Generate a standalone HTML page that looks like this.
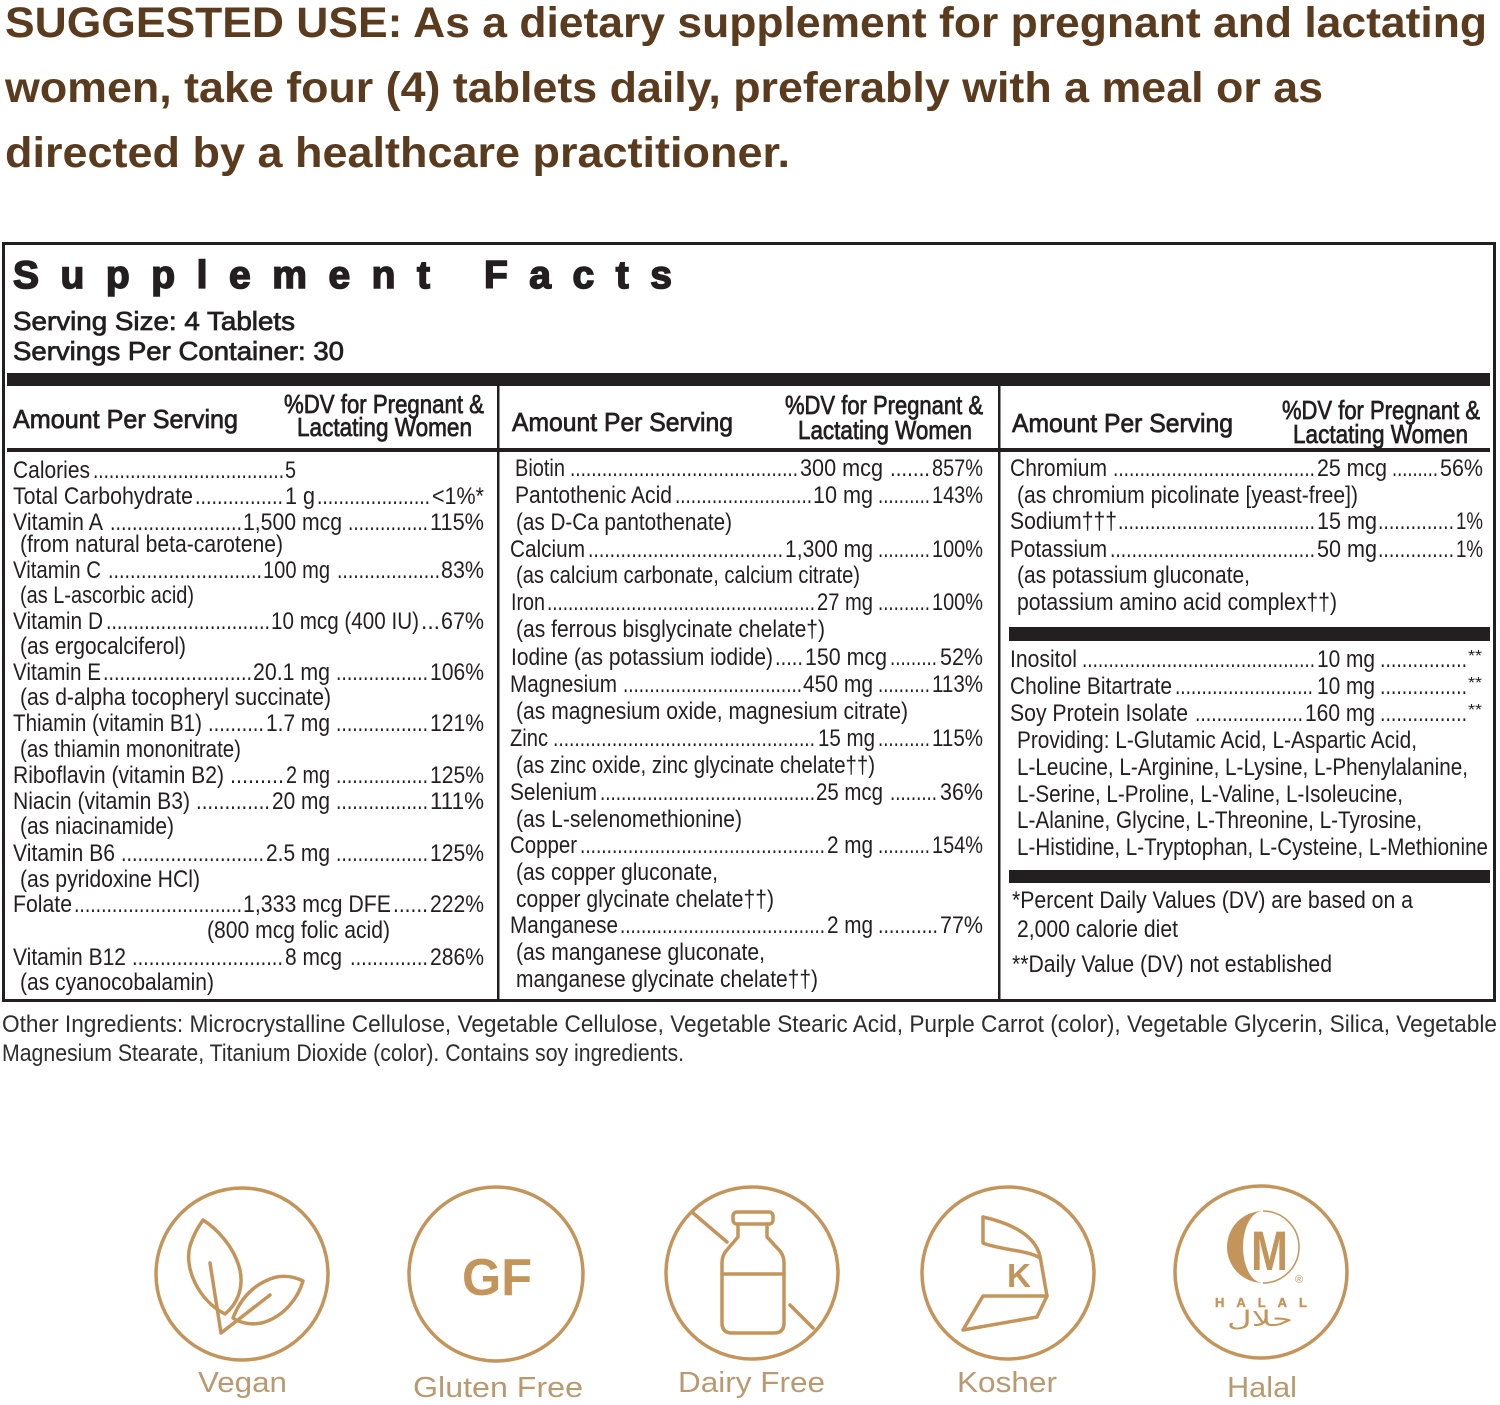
<!DOCTYPE html>
<html><head><meta charset="utf-8">
<style>
html,body{margin:0;padding:0;background:#fff;}
svg{display:block;}
.t{font-family:"Liberation Sans Narrow","Liberation Sans",sans-serif;font-size:24px;fill:#231f20;}
.h{font-family:"Liberation Sans Narrow","Liberation Sans",sans-serif;font-size:26px;fill:#231f20;stroke:#231f20;stroke-width:0.75px;}
.top{font-family:"Liberation Sans",sans-serif;font-weight:bold;font-size:43px;fill:#5b3b1e;}
.lab{font-family:"Liberation Sans",sans-serif;font-size:29px;fill:#b99a70;}
.ic{fill:none;stroke:#c4955b;stroke-width:3.5;stroke-linecap:round;stroke-linejoin:round;}
</style></head>
<body>
<svg width="1500" height="1405" viewBox="0 0 1500 1405" xmlns="http://www.w3.org/2000/svg">
<rect width="1500" height="1405" fill="#fff"/>

<!-- Suggested use -->
<text class="top" x="5" y="37" textLength="1482" lengthAdjust="spacingAndGlyphs">SUGGESTED USE: As a dietary supplement for pregnant and lactating</text>
<text class="top" x="5" y="102" textLength="1318" lengthAdjust="spacingAndGlyphs">women, take four (4) tablets daily, preferably with a meal or as</text>
<text class="top" x="5" y="167" textLength="785" lengthAdjust="spacingAndGlyphs">directed by a healthcare practitioner.</text>

<!-- Table frame -->
<rect x="3.5" y="243.5" width="1491" height="757" fill="none" stroke="#231f20" stroke-width="3"/>
<text x="13" y="288" font-family="Liberation Sans, sans-serif" font-weight="bold" font-size="39" fill="#231f20" stroke="#231f20" stroke-width="1.6" textLength="659" lengthAdjust="spacing">Supplement Facts</text>
<text class="h" x="13" y="330" textLength="282" lengthAdjust="spacingAndGlyphs">Serving Size: 4 Tablets</text>
<text class="h" x="13" y="360" textLength="331" lengthAdjust="spacingAndGlyphs">Servings Per Container: 30</text>
<rect x="7" y="373" width="1483" height="13" fill="#231f20"/>
<rect x="7" y="448" width="1483" height="4" fill="#231f20"/>
<rect x="497" y="386" width="2.5" height="614" fill="#231f20"/>
<rect x="998" y="386" width="2.5" height="614" fill="#231f20"/>
<rect x="1009" y="627" width="481" height="14" fill="#231f20"/>
<rect x="1009" y="870" width="481" height="13" fill="#231f20"/>

<!-- headers -->
<text class="h" x="13" y="428" textLength="225" lengthAdjust="spacingAndGlyphs">Amount Per Serving</text>
<text class="h" x="284" y="413" textLength="200" lengthAdjust="spacingAndGlyphs">%DV for Pregnant &amp;</text>
<text class="h" x="297" y="436" textLength="175" lengthAdjust="spacingAndGlyphs">Lactating Women</text>
<text class="h" x="512" y="431" textLength="221" lengthAdjust="spacingAndGlyphs">Amount Per Serving</text>
<text class="h" x="785" y="414" textLength="198" lengthAdjust="spacingAndGlyphs">%DV for Pregnant &amp;</text>
<text class="h" x="798" y="439" textLength="174" lengthAdjust="spacingAndGlyphs">Lactating Women</text>
<text class="h" x="1012" y="432" textLength="221" lengthAdjust="spacingAndGlyphs">Amount Per Serving</text>
<text class="h" x="1282" y="419" textLength="198" lengthAdjust="spacingAndGlyphs">%DV for Pregnant &amp;</text>
<text class="h" x="1293" y="443" textLength="175" lengthAdjust="spacingAndGlyphs">Lactating Women</text>

<!-- Column 1 -->
<g class="t">
<text x="13" y="478" textLength="77" lengthAdjust="spacingAndGlyphs">Calories</text>
<text x="93" y="478" textLength="191" lengthAdjust="spacingAndGlyphs">....................................</text>
<text x="285" y="478" textLength="11" lengthAdjust="spacingAndGlyphs">5</text>

<text x="13" y="504" textLength="180" lengthAdjust="spacingAndGlyphs">Total Carbohydrate</text>
<text x="195" y="504" textLength="88" lengthAdjust="spacingAndGlyphs">................</text>
<text x="285" y="504" textLength="30" lengthAdjust="spacingAndGlyphs">1 g</text>
<text x="317" y="504" textLength="113" lengthAdjust="spacingAndGlyphs">.....................</text>
<text x="432" y="504" textLength="52" lengthAdjust="spacingAndGlyphs">&lt;1%*</text>

<text x="13" y="530" textLength="90" lengthAdjust="spacingAndGlyphs">Vitamin A</text>
<text x="110" y="530" textLength="132" lengthAdjust="spacingAndGlyphs">........................</text>
<text x="243" y="530" textLength="99" lengthAdjust="spacingAndGlyphs">1,500 mcg</text>
<text x="348" y="530" textLength="80" lengthAdjust="spacingAndGlyphs">...............</text>
<text x="430" y="530" textLength="54" lengthAdjust="spacingAndGlyphs">115%</text>
<text x="20" y="552" textLength="263" lengthAdjust="spacingAndGlyphs">(from natural beta-carotene)</text>

<text x="13" y="578" textLength="88" lengthAdjust="spacingAndGlyphs">Vitamin C</text>
<text x="108" y="578" textLength="154" lengthAdjust="spacingAndGlyphs">............................</text>
<text x="263" y="578" textLength="67" lengthAdjust="spacingAndGlyphs">100 mg</text>
<text x="337" y="578" textLength="103" lengthAdjust="spacingAndGlyphs">...................</text>
<text x="441" y="578" textLength="43" lengthAdjust="spacingAndGlyphs">83%</text>
<text x="20" y="603" textLength="174" lengthAdjust="spacingAndGlyphs">(as L-ascorbic acid)</text>

<text x="13" y="629" textLength="90" lengthAdjust="spacingAndGlyphs">Vitamin D</text>
<text x="106" y="629" textLength="164" lengthAdjust="spacingAndGlyphs">..............................</text>
<text x="271" y="629" textLength="148" lengthAdjust="spacingAndGlyphs">10 mcg (400 IU)</text>
<text x="421" y="629" textLength="19" lengthAdjust="spacingAndGlyphs">...</text>
<text x="441" y="629" textLength="43" lengthAdjust="spacingAndGlyphs">67%</text>
<text x="20" y="654" textLength="166" lengthAdjust="spacingAndGlyphs">(as ergocalciferol)</text>

<text x="13" y="680" textLength="88" lengthAdjust="spacingAndGlyphs">Vitamin E</text>
<text x="103" y="680" textLength="149" lengthAdjust="spacingAndGlyphs">...........................</text>
<text x="253" y="680" textLength="77" lengthAdjust="spacingAndGlyphs">20.1 mg</text>
<text x="336" y="680" textLength="92" lengthAdjust="spacingAndGlyphs">.................</text>
<text x="430" y="680" textLength="54" lengthAdjust="spacingAndGlyphs">106%</text>
<text x="20" y="705" textLength="311" lengthAdjust="spacingAndGlyphs">(as d-alpha tocopheryl succinate)</text>

<text x="13" y="731" textLength="189" lengthAdjust="spacingAndGlyphs">Thiamin (vitamin B1)</text>
<text x="208" y="731" textLength="56" lengthAdjust="spacingAndGlyphs">..........</text>
<text x="266" y="731" textLength="64" lengthAdjust="spacingAndGlyphs">1.7 mg</text>
<text x="336" y="731" textLength="92" lengthAdjust="spacingAndGlyphs">.................</text>
<text x="430" y="731" textLength="54" lengthAdjust="spacingAndGlyphs">121%</text>
<text x="20" y="757" textLength="221" lengthAdjust="spacingAndGlyphs">(as thiamin mononitrate)</text>

<text x="13" y="783" textLength="211" lengthAdjust="spacingAndGlyphs">Riboflavin (vitamin B2)</text>
<text x="230" y="783" textLength="54" lengthAdjust="spacingAndGlyphs">.........</text>
<text x="286" y="783" textLength="44" lengthAdjust="spacingAndGlyphs">2 mg</text>
<text x="336" y="783" textLength="92" lengthAdjust="spacingAndGlyphs">.................</text>
<text x="430" y="783" textLength="54" lengthAdjust="spacingAndGlyphs">125%</text>

<text x="13" y="809" textLength="177" lengthAdjust="spacingAndGlyphs">Niacin (vitamin B3)</text>
<text x="196" y="809" textLength="74" lengthAdjust="spacingAndGlyphs">.............</text>
<text x="272" y="809" textLength="58" lengthAdjust="spacingAndGlyphs">20 mg</text>
<text x="336" y="809" textLength="92" lengthAdjust="spacingAndGlyphs">.................</text>
<text x="430" y="809" textLength="54" lengthAdjust="spacingAndGlyphs">111%</text>
<text x="20" y="834" textLength="154" lengthAdjust="spacingAndGlyphs">(as niacinamide)</text>

<text x="13" y="861" textLength="102" lengthAdjust="spacingAndGlyphs">Vitamin B6</text>
<text x="121" y="861" textLength="143" lengthAdjust="spacingAndGlyphs">..........................</text>
<text x="266" y="861" textLength="64" lengthAdjust="spacingAndGlyphs">2.5 mg</text>
<text x="336" y="861" textLength="92" lengthAdjust="spacingAndGlyphs">.................</text>
<text x="430" y="861" textLength="54" lengthAdjust="spacingAndGlyphs">125%</text>
<text x="20" y="887" textLength="180" lengthAdjust="spacingAndGlyphs">(as pyridoxine HCl)</text>

<text x="13" y="912" textLength="59" lengthAdjust="spacingAndGlyphs">Folate</text>
<text x="74" y="912" textLength="168" lengthAdjust="spacingAndGlyphs">...............................</text>
<text x="243" y="912" textLength="148" lengthAdjust="spacingAndGlyphs">1,333 mcg DFE</text>
<text x="393" y="912" textLength="35" lengthAdjust="spacingAndGlyphs">......</text>
<text x="430" y="912" textLength="54" lengthAdjust="spacingAndGlyphs">222%</text>
<text x="207" y="938" textLength="183" lengthAdjust="spacingAndGlyphs">(800 mcg folic acid)</text>

<text x="13" y="965" textLength="113" lengthAdjust="spacingAndGlyphs">Vitamin B12</text>
<text x="132" y="965" textLength="151" lengthAdjust="spacingAndGlyphs">...........................</text>
<text x="285" y="965" textLength="57" lengthAdjust="spacingAndGlyphs">8 mcg</text>
<text x="350" y="965" textLength="78" lengthAdjust="spacingAndGlyphs">..............</text>
<text x="430" y="965" textLength="54" lengthAdjust="spacingAndGlyphs">286%</text>
<text x="20" y="990" textLength="194" lengthAdjust="spacingAndGlyphs">(as cyanocobalamin)</text>
</g>

<!-- Column 2 -->
<g class="t">
<text x="515" y="476" textLength="50" lengthAdjust="spacingAndGlyphs">Biotin</text>
<text x="570" y="476" textLength="228" lengthAdjust="spacingAndGlyphs">...........................................</text>
<text x="800" y="476" textLength="83" lengthAdjust="spacingAndGlyphs">300 mcg</text>
<text x="890" y="476" textLength="40" lengthAdjust="spacingAndGlyphs">.......</text>
<text x="932" y="476" textLength="51" lengthAdjust="spacingAndGlyphs">857%</text>

<text x="515" y="503" textLength="157" lengthAdjust="spacingAndGlyphs">Pantothenic Acid</text>
<text x="675" y="503" textLength="137" lengthAdjust="spacingAndGlyphs">..........................</text>
<text x="813" y="503" textLength="60" lengthAdjust="spacingAndGlyphs">10 mg</text>
<text x="878" y="503" textLength="52" lengthAdjust="spacingAndGlyphs">..........</text>
<text x="932" y="503" textLength="51" lengthAdjust="spacingAndGlyphs">143%</text>
<text x="516" y="530" textLength="216" lengthAdjust="spacingAndGlyphs">(as D-Ca pantothenate)</text>

<text x="510" y="557" textLength="75" lengthAdjust="spacingAndGlyphs">Calcium</text>
<text x="588" y="557" textLength="195" lengthAdjust="spacingAndGlyphs">....................................</text>
<text x="785" y="557" textLength="88" lengthAdjust="spacingAndGlyphs">1,300 mg</text>
<text x="878" y="557" textLength="52" lengthAdjust="spacingAndGlyphs">..........</text>
<text x="932" y="557" textLength="51" lengthAdjust="spacingAndGlyphs">100%</text>
<text x="516" y="583" textLength="344" lengthAdjust="spacingAndGlyphs">(as calcium carbonate, calcium citrate)</text>

<text x="511" y="610" textLength="34" lengthAdjust="spacingAndGlyphs">Iron</text>
<text x="547" y="610" textLength="268" lengthAdjust="spacingAndGlyphs">...................................................</text>
<text x="817" y="610" textLength="56" lengthAdjust="spacingAndGlyphs">27 mg</text>
<text x="878" y="610" textLength="52" lengthAdjust="spacingAndGlyphs">..........</text>
<text x="932" y="610" textLength="51" lengthAdjust="spacingAndGlyphs">100%</text>
<text x="516" y="637" textLength="309" lengthAdjust="spacingAndGlyphs">(as ferrous bisglycinate chelate†)</text>

<text x="511" y="665" textLength="262" lengthAdjust="spacingAndGlyphs">Iodine (as potassium iodide)</text>
<text x="775" y="665" textLength="28" lengthAdjust="spacingAndGlyphs">.....</text>
<text x="805" y="665" textLength="82" lengthAdjust="spacingAndGlyphs">150 mcg</text>
<text x="890" y="665" textLength="47" lengthAdjust="spacingAndGlyphs">.........</text>
<text x="940" y="665" textLength="43" lengthAdjust="spacingAndGlyphs">52%</text>

<text x="510" y="692" textLength="107" lengthAdjust="spacingAndGlyphs">Magnesium</text>
<text x="623" y="692" textLength="179" lengthAdjust="spacingAndGlyphs">..................................</text>
<text x="803" y="692" textLength="70" lengthAdjust="spacingAndGlyphs">450 mg</text>
<text x="878" y="692" textLength="52" lengthAdjust="spacingAndGlyphs">..........</text>
<text x="932" y="692" textLength="51" lengthAdjust="spacingAndGlyphs">113%</text>
<text x="516" y="719" textLength="392" lengthAdjust="spacingAndGlyphs">(as magnesium oxide, magnesium citrate)</text>

<text x="510" y="746" textLength="38" lengthAdjust="spacingAndGlyphs">Zinc</text>
<text x="553" y="746" textLength="262" lengthAdjust="spacingAndGlyphs">.................................................</text>
<text x="818" y="746" textLength="57" lengthAdjust="spacingAndGlyphs">15 mg</text>
<text x="878" y="746" textLength="52" lengthAdjust="spacingAndGlyphs">..........</text>
<text x="932" y="746" textLength="51" lengthAdjust="spacingAndGlyphs">115%</text>
<text x="516" y="773" textLength="359" lengthAdjust="spacingAndGlyphs">(as zinc oxide, zinc glycinate chelate††)</text>

<text x="510" y="800" textLength="87" lengthAdjust="spacingAndGlyphs">Selenium</text>
<text x="600" y="800" textLength="215" lengthAdjust="spacingAndGlyphs">.........................................</text>
<text x="816" y="800" textLength="67" lengthAdjust="spacingAndGlyphs">25 mcg</text>
<text x="890" y="800" textLength="47" lengthAdjust="spacingAndGlyphs">.........</text>
<text x="940" y="800" textLength="43" lengthAdjust="spacingAndGlyphs">36%</text>
<text x="516" y="827" textLength="226" lengthAdjust="spacingAndGlyphs">(as L-selenomethionine)</text>

<text x="510" y="853" textLength="67" lengthAdjust="spacingAndGlyphs">Copper</text>
<text x="580" y="853" textLength="245" lengthAdjust="spacingAndGlyphs">..............................................</text>
<text x="827" y="853" textLength="46" lengthAdjust="spacingAndGlyphs">2 mg</text>
<text x="878" y="853" textLength="52" lengthAdjust="spacingAndGlyphs">..........</text>
<text x="932" y="853" textLength="51" lengthAdjust="spacingAndGlyphs">154%</text>
<text x="516" y="880" textLength="202" lengthAdjust="spacingAndGlyphs">(as copper gluconate,</text>
<text x="516" y="907" textLength="258" lengthAdjust="spacingAndGlyphs">copper glycinate chelate††)</text>

<text x="510" y="933" textLength="108" lengthAdjust="spacingAndGlyphs">Manganese</text>
<text x="620" y="933" textLength="205" lengthAdjust="spacingAndGlyphs">.......................................</text>
<text x="827" y="933" textLength="46" lengthAdjust="spacingAndGlyphs">2 mg</text>
<text x="878" y="933" textLength="60" lengthAdjust="spacingAndGlyphs">...........</text>
<text x="940" y="933" textLength="43" lengthAdjust="spacingAndGlyphs">77%</text>
<text x="516" y="960" textLength="249" lengthAdjust="spacingAndGlyphs">(as manganese gluconate,</text>
<text x="516" y="987" textLength="302" lengthAdjust="spacingAndGlyphs">manganese glycinate chelate††)</text>
</g>

<!-- Column 3 -->
<g class="t">
<text x="1010" y="476" textLength="97" lengthAdjust="spacingAndGlyphs">Chromium</text>
<text x="1113" y="476" textLength="202" lengthAdjust="spacingAndGlyphs">......................................</text>
<text x="1317" y="476" textLength="70" lengthAdjust="spacingAndGlyphs">25 mcg</text>
<text x="1392" y="476" textLength="46" lengthAdjust="spacingAndGlyphs">.........</text>
<text x="1440" y="476" textLength="43" lengthAdjust="spacingAndGlyphs">56%</text>
<text x="1017" y="503" textLength="341" lengthAdjust="spacingAndGlyphs">(as chromium picolinate [yeast-free])</text>

<text x="1010" y="529" textLength="107" lengthAdjust="spacingAndGlyphs">Sodium†††</text>
<text x="1118" y="529" textLength="197" lengthAdjust="spacingAndGlyphs">.....................................</text>
<text x="1317" y="529" textLength="60" lengthAdjust="spacingAndGlyphs">15 mg</text>
<text x="1378" y="529" textLength="76" lengthAdjust="spacingAndGlyphs">..............</text>
<text x="1456" y="529" textLength="27" lengthAdjust="spacingAndGlyphs">1%</text>

<text x="1010" y="557" textLength="97" lengthAdjust="spacingAndGlyphs">Potassium</text>
<text x="1110" y="557" textLength="205" lengthAdjust="spacingAndGlyphs">......................................</text>
<text x="1317" y="557" textLength="60" lengthAdjust="spacingAndGlyphs">50 mg</text>
<text x="1378" y="557" textLength="76" lengthAdjust="spacingAndGlyphs">..............</text>
<text x="1456" y="557" textLength="27" lengthAdjust="spacingAndGlyphs">1%</text>
<text x="1017" y="583" textLength="233" lengthAdjust="spacingAndGlyphs">(as potassium gluconate,</text>
<text x="1017" y="610" textLength="320" lengthAdjust="spacingAndGlyphs">potassium amino acid complex††)</text>

<text x="1010" y="667" textLength="67" lengthAdjust="spacingAndGlyphs">Inositol</text>
<text x="1082" y="667" textLength="233" lengthAdjust="spacingAndGlyphs">............................................</text>
<text x="1317" y="667" textLength="58" lengthAdjust="spacingAndGlyphs">10 mg</text>
<text x="1380" y="667" textLength="87" lengthAdjust="spacingAndGlyphs">................</text>
<text x="1468" y="661" font-size="16" textLength="14" lengthAdjust="spacingAndGlyphs">**</text>

<text x="1010" y="694" textLength="162" lengthAdjust="spacingAndGlyphs">Choline Bitartrate</text>
<text x="1175" y="694" textLength="138" lengthAdjust="spacingAndGlyphs">..........................</text>
<text x="1317" y="694" textLength="58" lengthAdjust="spacingAndGlyphs">10 mg</text>
<text x="1380" y="694" textLength="87" lengthAdjust="spacingAndGlyphs">................</text>
<text x="1468" y="688" font-size="16" textLength="14" lengthAdjust="spacingAndGlyphs">**</text>

<text x="1010" y="721" textLength="178" lengthAdjust="spacingAndGlyphs">Soy Protein Isolate</text>
<text x="1195" y="721" textLength="108" lengthAdjust="spacingAndGlyphs">....................</text>
<text x="1305" y="721" textLength="70" lengthAdjust="spacingAndGlyphs">160 mg</text>
<text x="1380" y="721" textLength="87" lengthAdjust="spacingAndGlyphs">................</text>
<text x="1468" y="715" font-size="16" textLength="14" lengthAdjust="spacingAndGlyphs">**</text>

<text x="1017" y="748" textLength="400" lengthAdjust="spacingAndGlyphs">Providing: L-Glutamic Acid, L-Aspartic Acid,</text>
<text x="1017" y="775" textLength="451" lengthAdjust="spacingAndGlyphs">L-Leucine, L-Arginine, L-Lysine, L-Phenylalanine,</text>
<text x="1017" y="802" textLength="386" lengthAdjust="spacingAndGlyphs">L-Serine, L-Proline, L-Valine, L-Isoleucine,</text>
<text x="1017" y="828" textLength="405" lengthAdjust="spacingAndGlyphs">L-Alanine, Glycine, L-Threonine, L-Tyrosine,</text>
<text x="1017" y="855" textLength="471" lengthAdjust="spacingAndGlyphs">L-Histidine, L-Tryptophan, L-Cysteine, L-Methionine</text>

<text x="1012" y="908" textLength="401" lengthAdjust="spacingAndGlyphs">*Percent Daily Values (DV) are based on a</text>
<text x="1017" y="937" textLength="161" lengthAdjust="spacingAndGlyphs">2,000 calorie diet</text>
<text x="1012" y="972" textLength="320" lengthAdjust="spacingAndGlyphs">**Daily Value (DV) not established</text>
</g>

<!-- Other ingredients -->
<g class="t" style="fill:#2e2e2e">
<text x="2" y="1032" textLength="1495" lengthAdjust="spacingAndGlyphs">Other Ingredients: Microcrystalline Cellulose, Vegetable Cellulose, Vegetable Stearic Acid, Purple Carrot (color), Vegetable Glycerin, Silica, Vegetable</text>
<text x="2" y="1061" textLength="682" lengthAdjust="spacingAndGlyphs">Magnesium Stearate, Titanium Dioxide (color). Contains soy ingredients.</text>
</g>

<!-- Icons -->
<!-- Vegan -->
<circle class="ic" cx="242" cy="1274" r="86"/>
<path class="ic" d="M225 1314 C198 1300 184 1268 190 1246 C194 1233 199 1226 203 1220 C216 1228 234 1246 240 1270 C244 1290 236 1305 225 1314 Z"/>
<path class="ic" d="M210 1263 L221 1333 L270 1295"/>
<path class="ic" d="M233 1318 C240 1300 252 1286 270 1279 C283 1274 295 1277 303 1281 C298 1298 285 1315 265 1322 C253 1326 240 1323 233 1318 Z"/>
<text class="lab" x="198" y="1392" textLength="89" lengthAdjust="spacingAndGlyphs">Vegan</text>

<!-- Gluten Free -->
<circle class="ic" cx="496" cy="1274" r="87"/>
<text x="462" y="1295" font-family="Liberation Sans, sans-serif" font-weight="bold" font-size="52" fill="#c4955b" textLength="70" lengthAdjust="spacingAndGlyphs">GF</text>
<text class="lab" x="413" y="1397" textLength="170" lengthAdjust="spacingAndGlyphs">Gluten Free</text>

<!-- Dairy Free -->
<circle class="ic" cx="752" cy="1273" r="86"/>
<rect class="ic" x="733" y="1212" width="40" height="12" rx="4"/>
<path class="ic" d="M738 1224 L738 1237 L726 1251 Q722 1256 722 1263 L722 1323 Q722 1333 732 1333 L774 1333 Q784 1333 784 1323 L784 1263 Q784 1256 780 1251 L767 1237 L767 1224"/>
<line class="ic" x1="722" y1="1274" x2="784" y2="1274"/>
<line class="ic" x1="693" y1="1213" x2="727" y2="1242"/>
<line class="ic" x1="790" y1="1305" x2="813" y2="1328"/>
<text class="lab" x="678" y="1392" textLength="147" lengthAdjust="spacingAndGlyphs">Dairy Free</text>

<!-- Kosher -->
<circle class="ic" cx="1008" cy="1273" r="86"/>
<path class="ic" d="M983 1217 C1005 1222 1034 1232 1040 1256 L1047 1296"/>
<path class="ic" d="M983 1217 L983 1243 C1000 1250 1028 1250 1040 1258"/>
<path class="ic" d="M983 1296 L1047 1296 L1037 1317 L963 1330 Z"/>
<text x="1007" y="1287" font-family="Liberation Sans, sans-serif" font-weight="bold" font-size="33" fill="#c4955b" textLength="24" lengthAdjust="spacingAndGlyphs">K</text>
<text class="lab" x="957" y="1392" textLength="100" lengthAdjust="spacingAndGlyphs">Kosher</text>

<!-- Halal -->
<circle class="ic" cx="1261" cy="1272" r="86"/>
<path d="M1263 1211 A36 36 0 0 0 1263 1283 A20 36 0 0 1 1263 1211 Z" fill="#c4955b"/>
<path d="M1263 1211 A36 36 0 0 1 1263 1283" fill="none" stroke="#c4955b" stroke-width="1.5"/>
<text x="1251" y="1270" font-family="Liberation Sans, sans-serif" font-weight="bold" font-size="56" fill="#c4955b" textLength="37" lengthAdjust="spacingAndGlyphs">M</text>
<text x="1295" y="1283" font-family="Liberation Sans, sans-serif" font-size="11" fill="#c4955b">®</text>
<text x="1215" y="1307" font-family="Liberation Sans, sans-serif" font-weight="bold" font-size="13" fill="#c4955b" stroke="#c4955b" stroke-width="0.4" textLength="92" lengthAdjust="spacing">HALAL</text>
<text x="1227" y="1326" font-family="DejaVu Sans, sans-serif" font-size="22" fill="#c4955b" textLength="66" lengthAdjust="spacingAndGlyphs">حلال</text>
<text class="lab" x="1227" y="1397" textLength="70" lengthAdjust="spacingAndGlyphs">Halal</text>
</svg>
</body></html>
